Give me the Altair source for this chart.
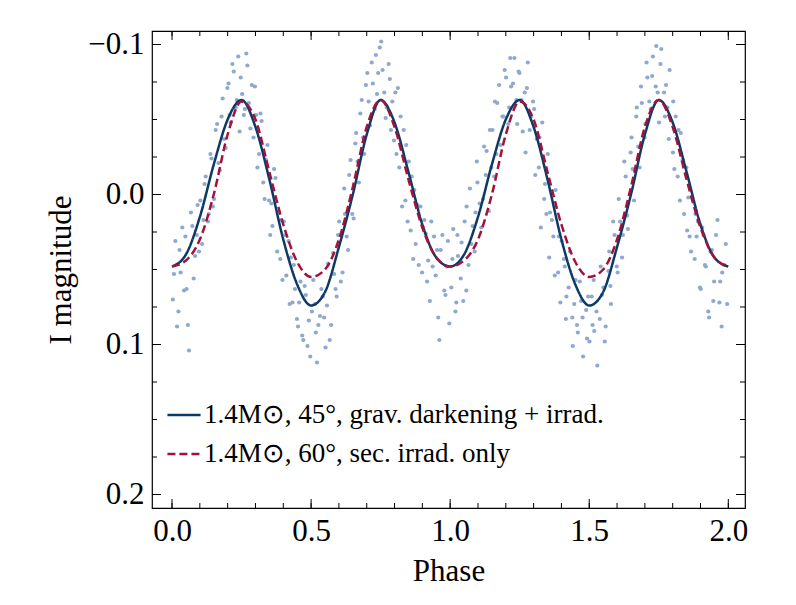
import altair as alt
import pandas as pd

# model curves, phase step 0.05
phase_grid = [round(i * 0.05, 2) for i in range(41)]
solid_mag = [0.048, 0.040, 0.015, -0.020, -0.050, -0.063, -0.045, -0.010, 0.030, 0.060,
             0.074, 0.065, 0.035, 0.000, -0.040, -0.063, -0.048, -0.015, 0.020, 0.042,
             0.048, 0.040, 0.015, -0.020, -0.050, -0.063, -0.045, -0.010, 0.030, 0.060,
             0.074, 0.065, 0.035, 0.000, -0.040, -0.063, -0.048, -0.015, 0.020, 0.042, 0.048]
dashed_mag = [0.048, 0.044, 0.030, 0.000, -0.040, -0.062, -0.050, -0.015, 0.020, 0.045,
              0.055, 0.050, 0.030, -0.005, -0.045, -0.063, -0.045, -0.010, 0.022, 0.042,
              0.048, 0.044, 0.030, 0.000, -0.040, -0.062, -0.050, -0.015, 0.020, 0.045,
              0.055, 0.050, 0.030, -0.005, -0.045, -0.063, -0.045, -0.010, 0.022, 0.042, 0.048]

# observed points
obs_phase_a = [0.003, 0.012, 0.018, 0.031, 0.037, 0.052, 0.061, 0.068, 0.083, 0.089,
               0.102, 0.108, 0.121, 0.129, 0.138, 0.151, 0.157, 0.172, 0.178, 0.193,
               0.199, 0.211, 0.222, 0.229, 0.238, 0.252, 0.258, 0.271, 0.276, 0.293,
               0.298, 0.313, 0.322, 0.328, 0.343, 0.349, 0.361, 0.367, 0.384, 0.389,
               0.402, 0.411, 0.419, 0.433, 0.438, 0.449, 0.462, 0.468, 0.481, 0.487,
               0.503, 0.508, 0.521, 0.526, 0.542, 0.547, 0.561, 0.567, 0.579, 0.588,
               0.601, 0.613, 0.619, 0.628, 0.642, 0.648, 0.659, 0.672, 0.677, 0.691,
               0.697, 0.712, 0.718, 0.729, 0.741, 0.747, 0.763, 0.768, 0.779, 0.792,
               0.798, 0.812, 0.817, 0.833, 0.839, 0.851, 0.858, 0.871, 0.876, 0.893,
               0.899, 0.907, 0.921, 0.927, 0.942, 0.948, 0.961, 0.966, 0.979, 0.992]
obs_mag_a = [0.07, 0.031, 0.088, 0.052, 0.022, 0.063, 0.104, 0.012, 0.041, 0.027,
             0.004, 0.033, -0.012, 0.018, -0.027, 0.003, -0.043, -0.016, -0.052, -0.031,
             -0.071, -0.048, -0.082, -0.058, -0.092, -0.067, -0.053, -0.086, -0.061, -0.038,
             -0.072, -0.027, -0.049, -0.008, -0.033, 0.004, 0.021, -0.017, 0.012, 0.043,
             0.018, 0.054, 0.031, 0.072, 0.047, 0.083, 0.058, 0.094, 0.067, 0.101,
             0.078, 0.057, 0.112, 0.087, 0.068, 0.082, 0.046, 0.097, 0.039, 0.063,
             0.018, 0.052, -0.004, 0.028, -0.023, 0.013, -0.034, -0.008, -0.054, -0.027,
             -0.073, -0.046, -0.088, -0.057, -0.081, -0.098, -0.068, -0.051, -0.087, -0.062,
             -0.036, -0.071, -0.018, -0.043, 0.004, -0.022, 0.024, -0.003, 0.033, 0.008,
             0.052, 0.017, 0.044, 0.071, 0.028, 0.054, 0.097, 0.037, 0.064, 0.031]
obs_phase_b = [0.007, 0.023, 0.027, 0.043, 0.048, 0.057, 0.073, 0.078, 0.092, 0.097,
               0.113, 0.117, 0.132, 0.142, 0.147, 0.162, 0.167, 0.182, 0.187, 0.203,
               0.207, 0.217, 0.233, 0.243, 0.247, 0.262, 0.267, 0.282, 0.287, 0.302,
               0.307, 0.318, 0.333, 0.338, 0.353, 0.357, 0.372, 0.378, 0.393, 0.397,
               0.407, 0.423, 0.427, 0.442, 0.453, 0.457, 0.472, 0.477, 0.492, 0.497,
               0.513, 0.517, 0.532, 0.537, 0.552, 0.557, 0.572, 0.583, 0.592, 0.597,
               0.607, 0.622, 0.633, 0.637, 0.653, 0.662, 0.667, 0.682, 0.687, 0.702,
               0.707, 0.722, 0.733, 0.737, 0.752, 0.757, 0.772, 0.783, 0.787, 0.803,
               0.807, 0.822, 0.827, 0.842, 0.847, 0.862, 0.867, 0.882, 0.887, 0.903,
               0.912, 0.917, 0.932, 0.937, 0.953, 0.957, 0.972, 0.983, 0.987, 0.997]
obs_mag_b = [0.053, 0.078, 0.037, 0.064, 0.028, 0.087, 0.021, 0.056, 0.007, 0.038,
             0.017, -0.007, 0.013, -0.024, 0.008, -0.047, -0.021, -0.064, -0.037, -0.074,
             -0.053, -0.087, -0.063, -0.042, -0.078, -0.057, -0.094, -0.044, -0.073, -0.053,
             -0.018, -0.054, 0.003, -0.023, 0.027, 0.006, -0.011, 0.038, 0.017, 0.057,
             0.027, 0.073, 0.042, 0.063, 0.088, 0.072, 0.097, 0.061, 0.084, 0.108,
             0.073, 0.092, 0.081, 0.063, 0.102, 0.074, 0.087, 0.053, 0.068, 0.027,
             0.058, 0.013, 0.037, -0.013, 0.016, -0.041, -0.022, -0.063, -0.038, -0.081,
             -0.062, -0.074, -0.093, -0.067, -0.102, -0.083, -0.058, -0.077, -0.043, -0.068,
             -0.027, -0.052, 0.008, -0.033, 0.018, -0.012, 0.043, 0.007, 0.047, 0.022,
             0.026, 0.058, 0.018, 0.048, 0.037, 0.082, 0.027, 0.067, 0.048, 0.086]
obs_phase_c = [round(p + 1.0, 3) for p in [0.004, 0.011, 0.019, 0.028, 0.041, 0.047, 0.059, 0.066, 0.081, 0.088,
               0.098, 0.112, 0.118, 0.131, 0.139, 0.152, 0.158, 0.169, 0.181, 0.188,
               0.201, 0.209, 0.219, 0.231, 0.238, 0.249, 0.261, 0.268, 0.279, 0.291,
               0.298, 0.311, 0.319, 0.331, 0.338, 0.351, 0.359, 0.371, 0.379, 0.388,
               0.401, 0.409, 0.418, 0.431, 0.439, 0.451, 0.459, 0.471, 0.478, 0.489,
               0.501, 0.509, 0.518, 0.529, 0.538, 0.551, 0.559, 0.569, 0.578, 0.591,
               0.599, 0.611, 0.618, 0.631, 0.639, 0.649, 0.661, 0.669, 0.681, 0.689,
               0.699, 0.709, 0.721, 0.729, 0.739, 0.751, 0.759, 0.769, 0.781, 0.789,
               0.801, 0.811, 0.818, 0.829, 0.841, 0.849, 0.861, 0.868, 0.879, 0.891,
               0.898, 0.911, 0.919, 0.928, 0.941, 0.949, 0.961, 0.968, 0.978, 0.991]]
obs_mag_c = [0.062, 0.023, 0.078, 0.041, 0.032, 0.071, 0.008, 0.047, 0.021, 0.038,
             -0.008, 0.022, 0.003, -0.029, 0.011, -0.043, -0.012, -0.061, -0.033, -0.052,
             -0.078, -0.047, -0.072, -0.091, -0.063, -0.081, -0.042, -0.068, -0.088, -0.052,
             -0.062, -0.037, -0.018, -0.048, 0.003, -0.027, 0.012, 0.028, -0.003, 0.052,
             0.031, 0.043, 0.068, 0.038, 0.082, 0.057, 0.092, 0.071, 0.108, 0.077,
             0.098, 0.068, 0.091, 0.114, 0.083, 0.062, 0.088, 0.051, 0.073, 0.027,
             0.048, 0.018, 0.042, -0.012, 0.023, -0.028, 0.004, -0.052, -0.018, -0.061,
             -0.038, -0.078, -0.057, -0.092, -0.072, -0.048, -0.097, -0.068, -0.058, -0.083,
             -0.028, -0.052, -0.012, -0.041, 0.013, -0.018, 0.028, 0.002, 0.043, 0.018,
             0.062, 0.027, 0.048, 0.078, 0.037, 0.058, 0.017, 0.072, 0.052, 0.033]
obs_phase_d = [round(p + 1.0, 3) for p in [0.008, 0.022, 0.026, 0.038, 0.052, 0.058, 0.071, 0.076, 0.091, 0.096,
               0.106, 0.122, 0.128, 0.143, 0.148, 0.161, 0.166, 0.176, 0.191, 0.196,
               0.212, 0.216, 0.226, 0.241, 0.246, 0.256, 0.271, 0.276, 0.286, 0.302,
               0.306, 0.321, 0.326, 0.341, 0.346, 0.356, 0.366, 0.376, 0.391, 0.396,
               0.412, 0.416, 0.426, 0.441, 0.446, 0.456, 0.466, 0.476, 0.492, 0.496,
               0.512, 0.516, 0.526, 0.541, 0.546, 0.556, 0.572, 0.576, 0.586, 0.602,
               0.606, 0.621, 0.626, 0.636, 0.652, 0.656, 0.671, 0.676, 0.686, 0.702,
               0.706, 0.716, 0.726, 0.741, 0.746, 0.756, 0.772, 0.776, 0.786, 0.802,
               0.806, 0.821, 0.826, 0.836, 0.852, 0.856, 0.866, 0.882, 0.886, 0.901,
               0.906, 0.916, 0.931, 0.936, 0.946, 0.956, 0.971, 0.976, 0.986, 0.996]]
obs_mag_d = [0.043, 0.072, 0.027, 0.056, 0.018, 0.064, -0.004, 0.033, 0.012, -0.022,
             0.006, -0.032, -0.013, -0.043, -0.018, -0.062, -0.027, -0.073, -0.052, -0.083,
             -0.058, -0.091, -0.074, -0.047, -0.082, -0.063, -0.028, -0.071, -0.043, -0.057,
             -0.013, -0.038, 0.022, -0.007, 0.013, 0.042, 0.017, 0.054, 0.028, 0.072,
             0.048, 0.083, 0.062, 0.101, 0.073, 0.087, 0.058, 0.082, 0.096, 0.068,
             0.087, 0.057, 0.078, 0.048, 0.067, 0.098, 0.038, 0.061, 0.018, 0.052,
             0.003, 0.027, -0.022, 0.014, -0.038, -0.017, -0.058, -0.032, -0.072, -0.047,
             -0.088, -0.062, -0.079, -0.099, -0.068, -0.087, -0.052, -0.073, -0.037, -0.062,
             -0.017, -0.043, 0.004, -0.023, 0.024, 0.002, 0.038, 0.013, 0.028, 0.063,
             0.022, 0.047, 0.082, 0.038, 0.071, 0.027, 0.058, 0.088, 0.047, 0.073]

x_major = [0.0, 0.5, 1.0, 1.5, 2.0]
x_minor = [round(i * 0.1, 1) for i in range(21)]
y_major = [-0.1, 0.0, 0.1, 0.2]
y_minor = [round(-0.1 + i * 0.025, 3) for i in range(13)]

label_a = "1.4M\u2299, 45\u00b0, grav. darkening + irrad."
label_b = "1.4M\u2299, 60\u00b0, sec. irrad. only"

points = pd.DataFrame({
    "phase": obs_phase_a + obs_phase_b + obs_phase_c + obs_phase_d,
    "mag": obs_mag_a + obs_mag_b + obs_mag_c + obs_mag_d,
})
models = pd.concat([
    pd.DataFrame({"phase": phase_grid, "mag": solid_mag, "model": label_a}),
    pd.DataFrame({"phase": phase_grid, "mag": dashed_mag, "model": label_b}),
])

font = "Liberation Serif"
xs = alt.Scale(domain=[-0.072, 2.06], nice=False, zero=False)
ys = alt.Scale(domain=[-0.109, 0.209], nice=False, zero=False, reverse=True)

scatter = alt.Chart(points).mark_circle(size=18, color="#8fa8d0", opacity=1).encode(
    x=alt.X("phase:Q", scale=xs, title="Phase",
            axis=alt.Axis(values=x_major, format=".1f", tickSize=0, grid=False)),
    y=alt.Y("mag:Q", scale=ys, title="I magnitude",
            axis=alt.Axis(values=y_major, format=".1f", tickSize=0, grid=False)),
)

lines = alt.Chart(models).mark_line(strokeWidth=2.5, interpolate="monotone").encode(
    x=alt.X("phase:Q", scale=xs),
    y=alt.Y("mag:Q", scale=ys),
    color=alt.Color("model:N", scale=alt.Scale(domain=[label_a, label_b], range=["#0b3a66", "#a3123a"]),
                    legend=alt.Legend(title=None, orient="none", legendX=14, legendY=366,
                                      symbolType="stroke", symbolSize=1100, symbolStrokeWidth=2.5,
                                      labelLimit=0, rowPadding=8, labelOffset=2)),
    strokeDash=alt.StrokeDash("model:N", scale=alt.Scale(domain=[label_a, label_b], range=[[1, 0], [8, 4]]),
                              legend=None),
)

def ticks(vals, axis, length):
    df = pd.DataFrame({"v": vals})
    if axis == "x":
        bot = alt.Chart(df).mark_rule(color="black").encode(
            x=alt.X("v:Q", scale=xs), y=alt.value(477), y2=alt.value(477 - length))
        top = alt.Chart(df).mark_rule(color="black").encode(
            x=alt.X("v:Q", scale=xs), y=alt.value(0), y2=alt.value(length))
    else:
        bot = alt.Chart(df).mark_rule(color="black").encode(
            y=alt.Y("v:Q", scale=ys), x=alt.value(0), x2=alt.value(length))
        top = alt.Chart(df).mark_rule(color="black").encode(
            y=alt.Y("v:Q", scale=ys), x=alt.value(593), x2=alt.value(593 - length))
    return bot + top

tick_layer = ticks(x_major, "x", 9) + ticks(x_minor, "x", 5) + ticks(y_major, "y", 9) + ticks(y_minor, "y", 5)

chart = alt.layer(scatter, lines, tick_layer).properties(
    width=593, height=477,
    padding={"left": 37, "top": 20, "right": 5, "bottom": 5},
).configure_view(stroke="black", strokeWidth=1.2).configure_axis(
    labelFont=font, titleFont=font, labelFontSize=31, titleFontSize=31,
    labelColor="black", titleColor="black", domain=False, labelPadding=8,
    titleFontWeight="normal", titlePadding=10,
).configure_legend(labelFont=font, labelFontSize=27, labelColor="black")

chart.save("out.html", embed_options={"renderer": "svg", "actions": False})
